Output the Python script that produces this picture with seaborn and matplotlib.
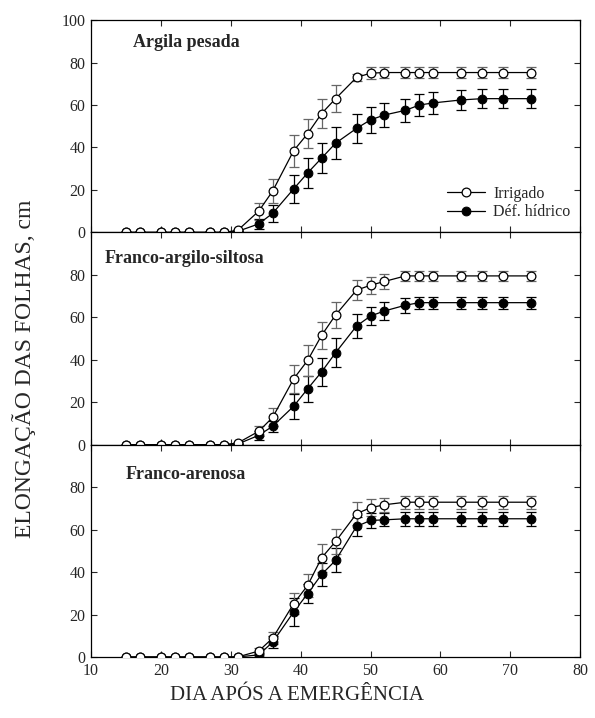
import numpy as np
import pandas as pd
import seaborn as sns
import matplotlib
matplotlib.use("Agg")
import matplotlib.pyplot as plt

sns.set_style("ticks")
plt.rcParams["font.family"] = ["Liberation Serif", "DejaVu Serif"]

dias = [15, 17, 20, 22, 24, 27, 29, 31, 34, 36, 39, 41, 43, 45, 48, 50,
        52, 55, 57, 59, 63, 66, 69, 73]

solos = ["Argila pesada", "Franco-argilo-siltosa", "Franco-arenosa"]

# Irrigado
irr_argila = [0] * 7 + [1, 10, 19.5, 38.5, 46.5, 56, 63, 73, 75, 75.3] + [75.3] * 7
irr_argila_err = [0] * 8 + [4, 5.7, 7.5, 6.7, 6.7, 6.3, 1.8, 2.8, 2.6] + [2.7] * 7
irr_siltosa = [0] * 7 + [0.8, 6.3, 12.9, 31, 39.7, 51.5, 61.1, 72.8, 75.1, 76.9] + [79.5] * 7
irr_siltosa_err = [0] * 8 + [2.4, 4.3, 6.5, 7.3, 6.5, 6.2, 4.6, 4.1, 3.5] + [2.2] * 7
irr_arenosa = [0] * 8 + [2.8, 8.9, 25.1, 33.7, 46.7, 54.4, 67.5, 70.3, 71.7] + [72.9] * 7
irr_arenosa_err = [0] * 8 + [1.5, 3, 5, 5.3, 6.5, 5.9, 5.5, 3.9, 3.4] + [3.1] * 7

# Deficit hidrico
def_argila = [0] * 7 + [0.5, 4, 9, 20.5, 28, 35, 42, 49, 53, 55.3, 57.5, 60, 61, 62.4, 63, 63, 63]
def_argila_err = [0] * 8 + [2.4, 4, 6.7, 6.9, 7.2, 7.5, 7, 6.3, 5.7, 5.5, 5.4, 5, 4.9, 4.6, 4.6, 4.6]
def_siltosa = [0] * 7 + [0.3, 4.4, 8.7, 18.1, 26.3, 34.3, 43.3, 55.9, 60.6, 63, 65.7] + [66.9] * 6
def_siltosa_err = [0] * 8 + [2, 2.6, 5.9, 6.1, 6.7, 6.9, 5.8, 4.1, 4.3, 3.6] + [2.9] * 6
def_arenosa = [0] * 8 + [1, 7, 21.2, 29.8, 38.9, 45.5, 61.5, 64.3, 64.6] + [65.1] * 7
def_arenosa_err = [0] * 8 + [1, 3, 6.4, 4.5, 5.5, 5.7, 4.3, 3.4, 3.1] + [3.4] * 7

irrigado = [irr_argila, irr_siltosa, irr_arenosa]
irrigado_err = [irr_argila_err, irr_siltosa_err, irr_arenosa_err]
deficit = [def_argila, def_siltosa, def_arenosa]
deficit_err = [def_argila_err, def_siltosa_err, def_arenosa_err]

# posizione titoli dentro i pannelli
pos_titoli = [(0.086, 0.895), (0.027, 0.878), (0.07, 0.858)]

fig, axes = plt.subplots(3, 1, figsize=(5.95, 7.18), dpi=100, sharex=True)
fig.subplots_adjust(left=0.153, right=0.975, top=0.972, bottom=0.085, hspace=0)

for i, ax in enumerate(axes):
    df = pd.DataFrame({"dia": dias, "irr": irrigado[i], "def": deficit[i]})

    ax.errorbar(dias, deficit[i], yerr=deficit_err[i], fmt="none",
                ecolor="black", elinewidth=0.9, capsize=3.5, capthick=0.9, zorder=2)
    ax.errorbar(dias, irrigado[i], yerr=irrigado_err[i], fmt="none",
                ecolor="0.4", elinewidth=0.9, capsize=3.5, capthick=0.9, zorder=2)

    sns.lineplot(data=df, x="dia", y="def", ax=ax, color="black", lw=0.9,
                 marker="o", markersize=6.3, markerfacecolor="black",
                 markeredgecolor="black", label="Déf. hídrico", zorder=3)
    sns.lineplot(data=df, x="dia", y="irr", ax=ax, color="black", lw=0.9,
                 marker="o", markersize=6.3, markerfacecolor="white",
                 markeredgecolor="black", markeredgewidth=0.9,
                 label="Irrigado", zorder=4)

    ax.set_xlim(10, 80)
    ax.set_ylim(0, 100)
    if i == 0:
        ax.set_yticks([0, 20, 40, 60, 80, 100])
    else:
        ax.set_yticks([0, 20, 40, 60, 80])
    ax.set_xticks(range(10, 81, 10))
    ax.set_xlabel("")
    ax.set_ylabel("")
    ax.tick_params(direction="in", top=True, right=True, labelsize=11.5,
                   length=4, width=0.8, pad=4)
    for sp in ax.spines.values():
        sp.set_linewidth(0.9)
        sp.set_color("black")

    tx, ty = pos_titoli[i]
    ax.text(tx, ty, solos[i], transform=ax.transAxes, fontsize=13,
            fontweight="bold", va="center", ha="left")

    if i == 0:
        h, l = ax.get_legend_handles_labels()
        ax.legend(h[::-1], l[::-1], loc="lower right", frameon=False,
                  fontsize=11.5, handlelength=2.4, handletextpad=0.5,
                  labelspacing=0.15, bbox_to_anchor=(1.01, -0.01))
    else:
        leg = ax.get_legend()
        if leg is not None:
            leg.remove()

fig.text(0.04, 0.487, "ELONGAÇÃO DAS FOLHAS, cm", rotation=90,
         fontsize=17, ha="center", va="center")
fig.text(0.5, 0.032, "DIA APÓS A EMERGÊNCIA", fontsize=15,
         ha="center", va="center")

plt.savefig("out.png", dpi=100)
